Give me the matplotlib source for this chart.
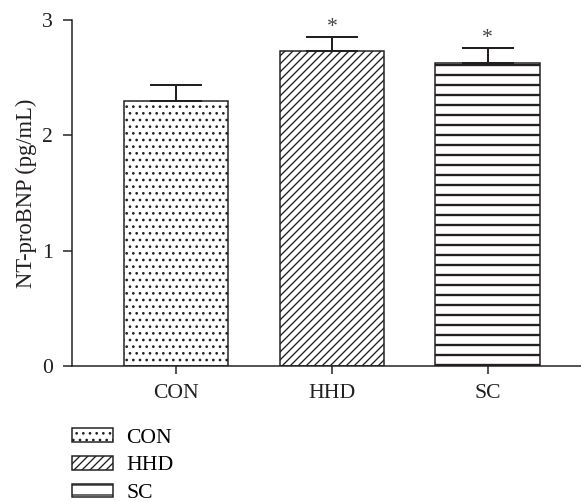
import matplotlib.pyplot as plt
import numpy as np

groups = ["CON", "HHD", "SC"]
means = [2.30, 2.73, 2.63]
sem = [0.14, 0.12, 0.125]
hatches = ["...", "/////", "--"]
significant = [False, True, True]

ink = "#231f20"
plt.rcParams["font.family"] = ["Liberation Serif", "DejaVu Serif"]
plt.rcParams["hatch.color"] = ink
plt.rcParams["hatch.linewidth"] = 0.8

fig = plt.figure(figsize=(581 / 120, 502 / 120), dpi=120)
ax = fig.add_axes([72 / 581, 1 - 366 / 502, (581 - 72) / 581, 346 / 502])

x = np.arange(len(groups))
bars = ax.bar(
    x,
    means,
    width=0.67,
    color="white",
    edgecolor=ink,
    linewidth=0.9,
    hatch=hatches,
    label=groups,
)
for b, h in zip(bars, hatches):
    if h == "--" and hasattr(b, "set_hatch_linewidth"):
        b.set_hatch_linewidth(1.4)

ax.errorbar(
    x,
    means,
    yerr=[np.zeros(len(sem)), sem],
    fmt="none",
    ecolor=ink,
    elinewidth=1.2,
    capsize=15.6,
    capthick=1.2,
)

# significance markers
for xi, m, s, sig in zip(x, means, sem, significant):
    if sig:
        ax.annotate("*", (xi, m + s), xytext=(0, 0), textcoords="offset points",
                    ha="center", va="bottom", fontsize=13, color="#444444")

ax.set_xlim(-0.67, 2.6)
ax.set_ylim(0, 3)
ax.set_yticks([0, 1, 2, 3])
ax.set_xticks(x)
ax.set_xticklabels(groups)
ax.set_ylabel("NT-proBNP (pg/mL)", fontsize=13.6, color=ink, labelpad=3)

for side in ["top", "right"]:
    ax.spines[side].set_visible(False)
for side in ["left", "bottom"]:
    ax.spines[side].set_linewidth(0.9)
    ax.spines[side].set_color(ink)
ax.tick_params(axis="y", length=5.4, width=0.9, pad=6, labelsize=13,
               colors=ink)
ax.tick_params(axis="x", length=4.8, width=0.9, pad=6, labelsize=13,
               colors=ink)

fig.legend(
    handles=list(bars),
    labels=groups,
    loc="upper left",
    bbox_to_anchor=(72 / 581, 1 - 428 / 502),
    frameon=False,
    fontsize=13,
    handlelength=1.9,
    handleheight=0.6,
    handletextpad=0.6,
    labelspacing=0.38,
    borderpad=0,
    borderaxespad=0,
)

plt.savefig("out.png", dpi=120)
